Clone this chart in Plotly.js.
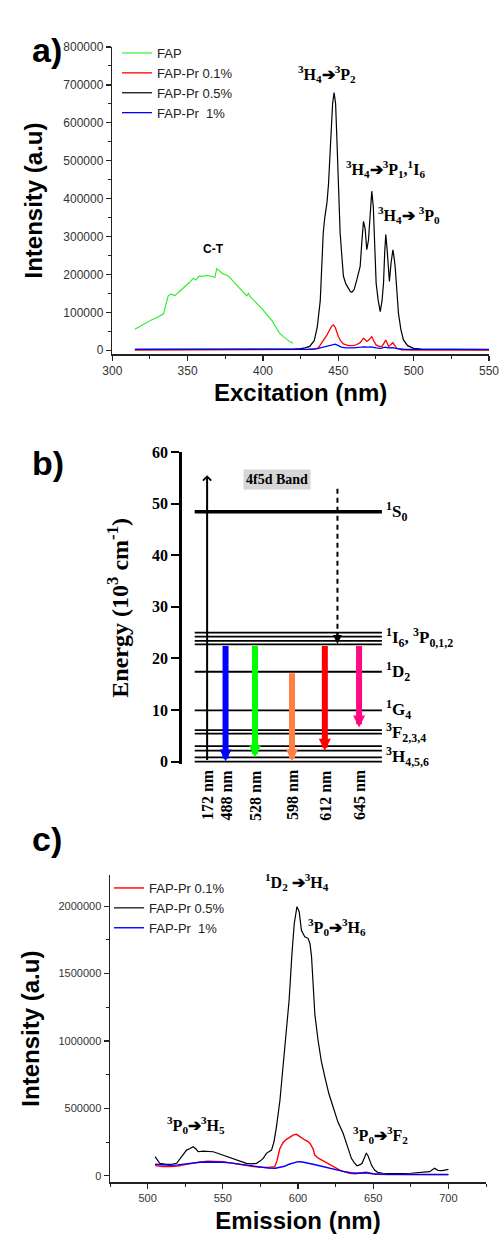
<!DOCTYPE html>
<html><head><meta charset="utf-8">
<script src="https://cdn.plot.ly/plotly-3.0.1.min.js"></script>
<style>html,body{margin:0;padding:0;background:#fff}</style>
</head><body><div id="chart" style="width:502px;height:1236px"></div>
<script>
// ===== Panel a: excitation spectra =====
const excNmFAP = [315,318,322,326,330,334,335.5,337.2,339,341.6,344,346,349.4,351,353.8,355.5,357.8,360,363,365,367.1,368.1,369.3,371,373.3,376,378,380.4,382.5,384.8,387,389.2,390.3,391.5,393.6,396,398,400,403,406,409,411,413.5,416,418,420];
const excFAP = [55500,62000,72000,80000,87000,96000,120000,144000,148000,144000,153000,160000,172700,178000,190000,185000,196000,195000,197000,196000,194000,192000,215000,210000,202000,198000,192000,181000,172000,164000,155000,143600,150000,141000,133000,124000,115000,106600,92000,78000,58000,45000,36000,27000,22000,18500];

const excNmPr01 = [315,350,400,430,434,436.7,439,441,442.4,444,445.5,446.7,448,449,450,451.5,453.4,456.7,460,462.3,464.5,466.7,468,469,470.5,472.2,473.5,475,477,479,480.5,481.5,482.5,483.4,485,486.2,487.5,488.9,492,500,550];
const excPr01 = [500,500,500,800,2000,6000,18500,30000,40000,52000,63000,67000,60000,48000,36000,25000,16700,12000,12000,15000,20000,31700,27000,23000,28000,36000,25000,14000,10000,10000,20000,27000,18000,10000,15000,20000,12000,5000,1000,500,500];

const excNmPr05 = [315,330,350,370,390,410,420,425,428,431,434,436,438,439,440,441,442.5,443.5,445,446.2,447.2,448.2,449.2,450.3,451.2,452.3,453.4,455,456.7,458,459,460.5,462.3,464.5,465.5,466.7,467.8,468.9,470,471.2,472.2,473.2,474,475.1,476.5,477.8,479,480,480.8,481.5,482.3,483.1,483.9,485,486.2,487,487.7,488.8,489.9,491.5,493.2,496,500,505,520,535,550];
const excPr05 = [2000,2000,2500,2500,2500,3000,3000,4000,6000,10000,25000,60000,130000,220000,310000,350000,390000,440000,560000,650000,680000,650000,540000,400000,310000,250000,195000,175000,164000,155000,153000,160000,186000,221000,280000,340000,320000,265000,290000,380000,419600,380000,270000,177000,130000,102000,130000,177000,260000,305000,270000,210000,181600,230000,265000,245000,221000,160000,98000,55000,27000,12000,5000,3000,2000,2000,1500];

const excNmPr1 = [315,350,400,430,436,440,443,446,448,450,452,455,460,465,467,470,472,475,478,481,483,486,489,493,500,550];
const excPr1 = [2000,2000,2000,2500,4000,8000,12000,16000,16000,12000,8000,6000,6000,8000,9000,8000,9000,6000,5000,8000,6000,7000,4000,2500,2000,2000];

// ===== Panel b: energy level scheme (10^3 cm^-1) =====
const levelNames = ['<sup>1</sup>S<sub>0</sub>', '<sup>1</sup>I<sub>6</sub>, <sup>3</sup>P<sub>0,1,2</sub>', '<sup>1</sup>D<sub>2</sub>', '<sup>1</sup>G<sub>4</sub>', '<sup>3</sup>F<sub>2,3,4</sub>', '<sup>3</sup>H<sub>4,5,6</sub>'];
const levelLabelE = [48.4, 24.0, 17.4, 10.0, 5.6, 1.0];
const levelLineE = [[48.4], [25.0, 24.2, 23.4, 22.7], [17.4], [9.9], [6.1, 5.4], [3.0, 2.1, 0.8, 0.0]];
const excitationNm = 172;
const excitationFromE = 0.0, excitationToE = 55.5;
const relaxFromE = 52.9, relaxToE = 22.8;
const emissionNm = [488, 528, 598, 612, 645];
const emissionFromE = [22.7, 22.7, 17.4, 22.7, 22.7];
const emissionToE = [0.0, 0.8, 0.0, 2.1, 6.6];
const bandLabel = '4f5d Band';
const bandE = 54.6;

// ===== Panel c: emission spectra =====
const emNmPr05 = [505,508,512.6,516,519.3,522.6,525.9,528,530.3,532,533.6,536.9,540,543.6,547,550.2,553,556.8,561,565.7,569,572.4,575,577,579,581,582.4,584,585.7,588,590.1,592,594.1,596,597.5,599.3,600.8,602.3,604.5,606.7,608,609,610,611.2,613.3,615.5,617.8,620.5,623.3,626.5,630,633,635.5,637.5,639.2,641,642.6,644,645.4,646.5,647.6,649,650.9,653,656.4,665,675,682,687.5,690.8,693,696,700];
const emPr05 = [141000,92000,84600,85000,92000,141000,190000,200000,215000,200000,178000,183000,182000,178000,165000,153000,142000,129000,110000,92000,88000,92000,110000,130000,166000,180000,190000,250000,364000,560000,809000,1040000,1304000,1650000,1870000,1997000,1960000,1820000,1774000,1762000,1720000,1626000,1420000,1200000,1007000,850000,735000,610000,512000,400000,315000,220000,129000,95000,74000,80000,92000,130000,166000,150000,117000,75000,42000,25000,18000,15000,18000,22000,30000,55000,40000,37000,47000];

const emNmPr01 = [505,510,515,520,525,530,535,540,545,550,555,560,565,570,575,580,584.6,586,587.9,590,592.3,595,597,599,601.2,603,604.5,606.5,608,610,611.2,613.5,615.7,618,621.2,624.5,627.8,631,634.4,638,642,645.4,648,652,660,670,680,690,700];
const emPr01 = [75000,68000,68000,72000,82000,95000,103000,108000,108000,103000,95000,85000,75000,68000,63000,62000,67000,110000,200000,245000,270000,290000,303000,307000,290000,275000,265000,255000,240000,200000,153000,130000,117000,100000,80000,60000,42000,28000,18000,15000,18000,25000,18000,10000,8000,8000,8000,8000,8000];

const emNmPr1 = [505,510,515,520,525,530,535,540,545,550,555,560,565,570,575,580,585,588,591,594,597,600,603,606,610,615,620,625,630,635,640,645,650,660,670,680,690,700];
const emPr1 = [85000,80000,78000,80000,88000,95000,100000,102000,102000,100000,95000,87000,78000,70000,62000,57000,55000,60000,70000,85000,97000,104000,102000,96000,85000,72000,58000,45000,32000,22000,18000,22000,14000,10000,9000,9000,9000,9000];

// ===== layout constants =====
const W = 502, H = 1236;
const px = v => v / W, py = v => 1 - v / H;
const SANS = 'Liberation Sans, Arial, sans-serif';
const SERIF = 'Liberation Serif, Times New Roman, serif';
const LVL_X0 = 6.5, LVL_X1 = 100, LABEL_X = 101;
const EXC_SLOT = 12.7, RELAX_SLOT = 77.8;
const EMI_SLOTS = [21.9, 36.6, 55.1, 71.5, 88.6];
const EMI_COLORS = ['#0000ff', '#00ff00', '#ff8040', '#ff0000', '#ff0a80'];

const traces = [];
function spec(x, y, name, color, width, xa, ya, leg) {
  traces.push({x, y, name, type: 'scatter', mode: 'lines', line: {color, width},
    xaxis: xa, yaxis: ya, legend: leg, hoverinfo: 'skip'});
}
spec(excNmFAP, excFAP, 'FAP', '#22ee22', 1.1, 'x', 'y', 'legend');
spec(excNmPr01, excPr01, 'FAP-Pr 0.1%', '#ff0000', 1.3, 'x', 'y', 'legend');
spec(excNmPr05, excPr05, 'FAP-Pr 0.5%', '#000000', 1.2, 'x', 'y', 'legend');
spec(excNmPr1, excPr1, 'FAP-Pr  1%', '#0000ff', 1.3, 'x', 'y', 'legend');

spec(emNmPr01, emPr01, 'FAP-Pr 0.1%', '#ff0000', 1.4, 'x3', 'y3', 'legend2');
spec(emNmPr05, emPr05, 'FAP-Pr 0.5%', '#000000', 1.2, 'x3', 'y3', 'legend2');
spec(emNmPr1, emPr1, 'FAP-Pr  1%', '#0000ff', 1.4, 'x3', 'y3', 'legend2');

// energy levels
levelLineE.forEach((group, gi) => {
  const lx = [], ly = [];
  group.forEach(e => { lx.push(LVL_X0, LVL_X1, null); ly.push(e, e, null); });
  traces.push({x: lx, y: ly, type: 'scatter', mode: 'lines', xaxis: 'x2', yaxis: 'y2',
    line: {color: '#000', width: gi === 0 ? 3.5 : 1.8}, showlegend: false, hoverinfo: 'skip'});
});
// dashed relaxation line
traces.push({x: [RELAX_SLOT, RELAX_SLOT], y: [relaxFromE, relaxToE + 1.2], type: 'scatter', mode: 'lines',
  xaxis: 'x2', yaxis: 'y2', line: {color: '#000', width: 2, dash: '5px,4px'}, showlegend: false, hoverinfo: 'skip'});

const annotations = [];
// panel letters
[['a)', 29], ['b)', 463], ['c)', 860]].forEach(([t, y]) => annotations.push({
  text: t, xref: 'paper', yref: 'paper', x: px(30), y: py(y), showarrow: false,
  font: {family: SANS, size: 34, weight: 'bold', color: '#000'}}));

const trFont = {family: SERIF, size: 16, weight: 'bold', color: '#000'};
const ARROW = '\u2794';
// panel a labels
annotations.push({text: 'C-T', xref: 'x', yref: 'y', x: 367, y: 268000, showarrow: false,
  font: {family: SANS, size: 12, weight: 'bold', color: '#000'}});
annotations.push({text: `<sup>3</sup>H<sub>4</sub>${ARROW}<sup>3</sup>P<sub>2</sub>`, xref: 'x', yref: 'y', x: 442.6, y: 728000, showarrow: false, font: trFont});
annotations.push({text: `<sup>3</sup>H<sub>4</sub>${ARROW}<sup>3</sup>P<sub>1</sub>,<sup>1</sup>I<sub>6</sub>`, xref: 'x', yref: 'y', x: 481, y: 477000, showarrow: false, font: trFont});
annotations.push({text: `<sup>3</sup>H<sub>4</sub>${ARROW} <sup>3</sup>P<sub>0</sub>`, xref: 'x', yref: 'y', x: 497, y: 358000, showarrow: false, font: trFont});
// panel c labels
annotations.push({text: `<sup>1</sup>D<sub>2</sub> ${ARROW}<sup>3</sup>H<sub>4</sub>`, xref: 'x3', yref: 'y3', x: 599.5, y: 2182000, showarrow: false, font: trFont});
annotations.push({text: `<sup>3</sup>P<sub>0</sub>${ARROW}<sup>3</sup>H<sub>6</sub>`, xref: 'x3', yref: 'y3', x: 625.7, y: 1849000, showarrow: false, font: trFont});
annotations.push({text: `<sup>3</sup>P<sub>0</sub>${ARROW}<sup>3</sup>H<sub>5</sub>`, xref: 'x3', yref: 'y3', x: 532, y: 376000, showarrow: false, font: trFont});
annotations.push({text: `<sup>3</sup>P<sub>0</sub>${ARROW}<sup>3</sup>F<sub>2</sub>`, xref: 'x3', yref: 'y3', x: 654.6, y: 302000, showarrow: false, font: trFont});

// panel b: level labels
levelNames.forEach((n, i) => annotations.push({text: n, xref: 'x2', yref: 'y2', x: LABEL_X, y: levelLabelE[i],
  xanchor: 'left', yanchor: 'middle', showarrow: false, font: {family: SERIF, size: 17, weight: 'bold', color: '#000'}}));
// band label
annotations.push({text: bandLabel, xref: 'x2', yref: 'y2', x: 47.6, y: bandE, showarrow: false,
  bgcolor: '#d6d6d6', borderpad: 2, font: {family: SERIF, size: 14, weight: 'bold', color: '#000'}});
// excitation arrow (up)
annotations.push({text: '', xref: 'x2', yref: 'y2', axref: 'x2', ayref: 'y2', x: EXC_SLOT, y: excitationToE,
  ax: EXC_SLOT, ay: excitationFromE, showarrow: true, arrowhead: 4, arrowsize: 0.8, arrowwidth: 2, arrowcolor: '#000'});
// relaxation arrow head
annotations.push({text: '', xref: 'x2', yref: 'y2', axref: 'x2', ayref: 'y2', x: RELAX_SLOT, y: relaxToE,
  ax: RELAX_SLOT, ay: relaxToE + 2.5, showarrow: true, arrowhead: 2, arrowsize: 0.9, arrowwidth: 2, arrowcolor: '#000'});
// emission arrows
emissionNm.forEach((nm, i) => annotations.push({text: '', xref: 'x2', yref: 'y2', axref: 'x2', ayref: 'y2',
  x: EMI_SLOTS[i], y: emissionToE[i], ax: EMI_SLOTS[i], ay: emissionFromE[i], showarrow: true,
  arrowhead: 2, arrowsize: 0.4, arrowwidth: 6, arrowcolor: EMI_COLORS[i]}));
// wavelength labels
[excitationNm].concat(emissionNm).forEach((nm, i) => annotations.push({text: nm + ' nm', xref: 'x2', yref: 'paper',
  x: i === 0 ? EXC_SLOT : EMI_SLOTS[i - 1], y: py(795), textangle: -90, showarrow: false,
  font: {family: SERIF, size: 16, weight: 'bold', color: '#000'}}));

const specAxis = (extra) => Object.assign({
  showline: true, linecolor: '#222', linewidth: 1.5, ticks: 'outside', ticklen: 5, tickwidth: 1.3, tickcolor: '#222',
  showgrid: false, zeroline: false, mirror: false, fixedrange: true,
}, extra);

const layout = {
  width: W, height: H, margin: {l: 0, r: 0, t: 0, b: 0},
  paper_bgcolor: '#fff', plot_bgcolor: 'rgba(0,0,0,0)', showlegend: true,
  xaxis: specAxis({domain: [px(112.3), px(489)], range: [300, 550], anchor: 'y', dtick: 50, tick0: 300,
    minor: {ticks: 'outside', ticklen: 3, tickwidth: 1, tickcolor: '#222', dtick: 25, tick0: 300, showgrid: false},
    tickfont: {family: SANS, size: 12, color: '#333'},
    title: {text: 'Excitation (nm)', standoff: 7, font: {family: SANS, size: 24, weight: 'bold', color: '#000'}}}),
  yaxis: specAxis({domain: [py(354), py(47)], range: [-10000, 800000], anchor: 'x', dtick: 100000, tick0: 0, tickformat: 'd',
    minor: {ticks: 'outside', ticklen: 3, tickwidth: 1, tickcolor: '#222', dtick: 50000, tick0: 0, showgrid: false},
    tickfont: {family: SANS, size: 12, color: '#333'},
    title: {text: 'Intensity (a.u)', standoff: 14, font: {family: SANS, size: 24, weight: 'bold', color: '#000'}}}),
  xaxis2: {domain: [px(181.7), 1], range: [0, 160], anchor: 'y2', visible: false, fixedrange: true},
  yaxis2: {domain: [py(763.6), py(452)], range: [-0.4, 60], anchor: 'x2', showline: true, linecolor: '#000', linewidth: 2.5,
    ticks: 'outside', ticklen: 8, tickwidth: 2, tickcolor: '#000', dtick: 10, tick0: 0, showgrid: false, zeroline: false, fixedrange: true,
    tickfont: {family: SERIF, size: 16, weight: 'bold', color: '#000'},
    title: {text: 'Energy (10<sup>3</sup> cm<sup>-1</sup>)', standoff: 17, font: {family: SERIF, size: 24, weight: 'bold', color: '#000'}}},
  xaxis3: specAxis({domain: [px(110), px(486)], range: [475, 725], anchor: 'y3', dtick: 50, tick0: 500,
    minor: {ticks: 'outside', ticklen: 3, tickwidth: 1, tickcolor: '#222', dtick: 25, tick0: 475, showgrid: false},
    tickfont: {family: SANS, size: 11, color: '#333'},
    title: {text: 'Emission (nm)', standoff: 9, font: {family: SANS, size: 24, weight: 'bold', color: '#000'}}}),
  yaxis3: specAxis({domain: [py(1182.3), py(875)], range: [-49000, 2232000], anchor: 'x3', dtick: 500000, tick0: 0, tickformat: 'd',
    minor: {ticks: 'outside', ticklen: 3, tickwidth: 1, tickcolor: '#222', dtick: 250000, tick0: 0, showgrid: false},
    tickfont: {family: SANS, size: 11, color: '#333'},
    title: {text: 'Intensity (a.u)', standoff: 12, font: {family: SANS, size: 24, weight: 'bold', color: '#000'}}}),
  legend: {x: px(117), xanchor: 'left', y: py(38), yanchor: 'top', bgcolor: 'rgba(0,0,0,0)', borderwidth: 0,
    font: {family: SANS, size: 13, color: '#222'}, itemwidth: 30},
  legend2: {x: px(109), xanchor: 'left', y: py(873), yanchor: 'top', bgcolor: 'rgba(0,0,0,0)', borderwidth: 0,
    font: {family: SANS, size: 13, color: '#222'}, itemwidth: 30},
  annotations,
};

Plotly.newPlot('chart', traces, layout, {staticPlot: true, displayModeBar: false});
</script>
</body></html>
